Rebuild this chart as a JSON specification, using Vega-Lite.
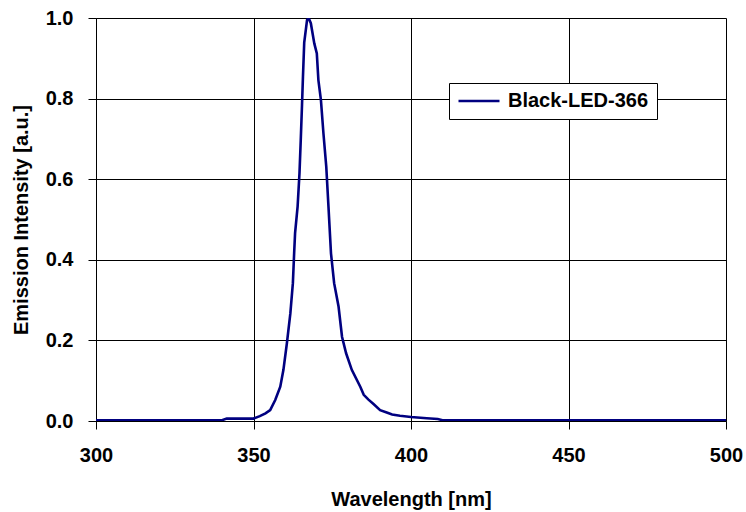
{
  "$schema": "https://vega.github.io/schema/vega-lite/v6.json",
  "width": 630,
  "height": 403,
  "autosize": {"type": "none"},
  "padding": {"left": 96, "top": 18, "right": 20, "bottom": 91},
  "background": "white",
  "config": {
    "font": "Liberation Sans",
    "view": {"stroke": null},
    "axis": {
      "labelFont": "Liberation Sans",
      "labelFontWeight": "bold",
      "labelFontSize": 20,
      "labelColor": "black",
      "titleFont": "Liberation Sans",
      "titleFontWeight": "bold",
      "titleFontSize": 20,
      "titleColor": "black",
      "gridColor": "black",
      "gridOpacity": 1,
      "gridWidth": 1,
      "domainColor": "black",
      "domainWidth": 1,
      "tickColor": "black",
      "tickSize": 8,
      "tickWidth": 1
    },
    "legend": {
      "labelFont": "Liberation Sans",
      "labelFontWeight": "bold",
      "labelFontSize": 20,
      "labelColor": "black"
    }
  },
  "data": {
    "values": [
      {"wavelength": 300, "intensity": 0.002, "series": "Black-LED-366"},
      {"wavelength": 340, "intensity": 0.002, "series": "Black-LED-366"},
      {"wavelength": 341.5, "intensity": 0.006, "series": "Black-LED-366"},
      {"wavelength": 350, "intensity": 0.006, "series": "Black-LED-366"},
      {"wavelength": 352, "intensity": 0.012, "series": "Black-LED-366"},
      {"wavelength": 353.8, "intensity": 0.019, "series": "Black-LED-366"},
      {"wavelength": 355.3, "intensity": 0.027, "series": "Black-LED-366"},
      {"wavelength": 356.9, "intensity": 0.052, "series": "Black-LED-366"},
      {"wavelength": 358.5, "intensity": 0.085, "series": "Black-LED-366"},
      {"wavelength": 359.5, "intensity": 0.127, "series": "Black-LED-366"},
      {"wavelength": 360.6, "intensity": 0.193, "series": "Black-LED-366"},
      {"wavelength": 361.7, "intensity": 0.267, "series": "Black-LED-366"},
      {"wavelength": 362.5, "intensity": 0.342, "series": "Black-LED-366"},
      {"wavelength": 362.9, "intensity": 0.416, "series": "Black-LED-366"},
      {"wavelength": 363.2, "intensity": 0.466, "series": "Black-LED-366"},
      {"wavelength": 364.0, "intensity": 0.532, "series": "Black-LED-366"},
      {"wavelength": 364.6, "intensity": 0.615, "series": "Black-LED-366"},
      {"wavelength": 365.0, "intensity": 0.697, "series": "Black-LED-366"},
      {"wavelength": 365.4, "intensity": 0.784, "series": "Black-LED-366"},
      {"wavelength": 365.7, "intensity": 0.854, "series": "Black-LED-366"},
      {"wavelength": 366.1, "intensity": 0.939, "series": "Black-LED-366"},
      {"wavelength": 367.0, "intensity": 0.995, "series": "Black-LED-366"},
      {"wavelength": 367.5, "intensity": 1.0, "series": "Black-LED-366"},
      {"wavelength": 368.2, "intensity": 0.987, "series": "Black-LED-366"},
      {"wavelength": 369.3, "intensity": 0.937, "series": "Black-LED-366"},
      {"wavelength": 370.1, "intensity": 0.912, "series": "Black-LED-366"},
      {"wavelength": 370.6, "intensity": 0.846, "series": "Black-LED-366"},
      {"wavelength": 371.4, "intensity": 0.797, "series": "Black-LED-366"},
      {"wavelength": 372.2, "intensity": 0.714, "series": "Black-LED-366"},
      {"wavelength": 373.1, "intensity": 0.631, "series": "Black-LED-366"},
      {"wavelength": 373.8, "intensity": 0.532, "series": "Black-LED-366"},
      {"wavelength": 374.6, "intensity": 0.416, "series": "Black-LED-366"},
      {"wavelength": 375.6, "intensity": 0.342, "series": "Black-LED-366"},
      {"wavelength": 377.0, "intensity": 0.284, "series": "Black-LED-366"},
      {"wavelength": 378.1, "intensity": 0.209, "series": "Black-LED-366"},
      {"wavelength": 379.4, "intensity": 0.168, "series": "Black-LED-366"},
      {"wavelength": 381.2, "intensity": 0.127, "series": "Black-LED-366"},
      {"wavelength": 383.9, "intensity": 0.085, "series": "Black-LED-366"},
      {"wavelength": 385.0, "intensity": 0.065, "series": "Black-LED-366"},
      {"wavelength": 386.5, "intensity": 0.053, "series": "Black-LED-366"},
      {"wavelength": 388.1, "intensity": 0.042, "series": "Black-LED-366"},
      {"wavelength": 390.2, "intensity": 0.027, "series": "Black-LED-366"},
      {"wavelength": 392.3, "intensity": 0.021, "series": "Black-LED-366"},
      {"wavelength": 394.0, "intensity": 0.016, "series": "Black-LED-366"},
      {"wavelength": 396.5, "intensity": 0.013, "series": "Black-LED-366"},
      {"wavelength": 400, "intensity": 0.01, "series": "Black-LED-366"},
      {"wavelength": 405, "intensity": 0.007, "series": "Black-LED-366"},
      {"wavelength": 408.5, "intensity": 0.005, "series": "Black-LED-366"},
      {"wavelength": 410, "intensity": 0.002, "series": "Black-LED-366"},
      {"wavelength": 500, "intensity": 0.002, "series": "Black-LED-366"}
    ]
  },
  "mark": {"type": "line", "strokeWidth": 2.6, "clip": true},
  "encoding": {
    "x": {
      "field": "wavelength",
      "type": "quantitative",
      "scale": {"domain": [300, 500], "nice": false, "zero": false},
      "axis": {
        "title": "Wavelength [nm]",
        "values": [300, 350, 400, 450, 500],
        "labelFlush": false,
        "labelPadding": 16,
        "titlePadding": 24,
        "grid": true
      }
    },
    "y": {
      "field": "intensity",
      "type": "quantitative",
      "scale": {"domain": [0, 1], "nice": false},
      "axis": {
        "title": "Emission Intensity [a.u.]",
        "values": [0, 0.2, 0.4, 0.6, 0.8, 1.0],
        "format": ".1f",
        "labelPadding": 15,
        "titlePadding": 14,
        "grid": true
      }
    },
    "color": {
      "field": "series",
      "type": "nominal",
      "scale": {"domain": ["Black-LED-366"], "range": ["#000080"]},
      "legend": {
        "title": null,
        "orient": "none",
        "legendX": 353,
        "legendY": 65,
        "symbolType": "stroke",
        "symbolSize": 1681,
        "symbolStrokeWidth": 2.6,
        "clipHeight": 20,
        "labelOffset": 7,
        "padding": 8,
        "strokeColor": "black",
        "fillColor": "white"
      }
    }
  }
}
